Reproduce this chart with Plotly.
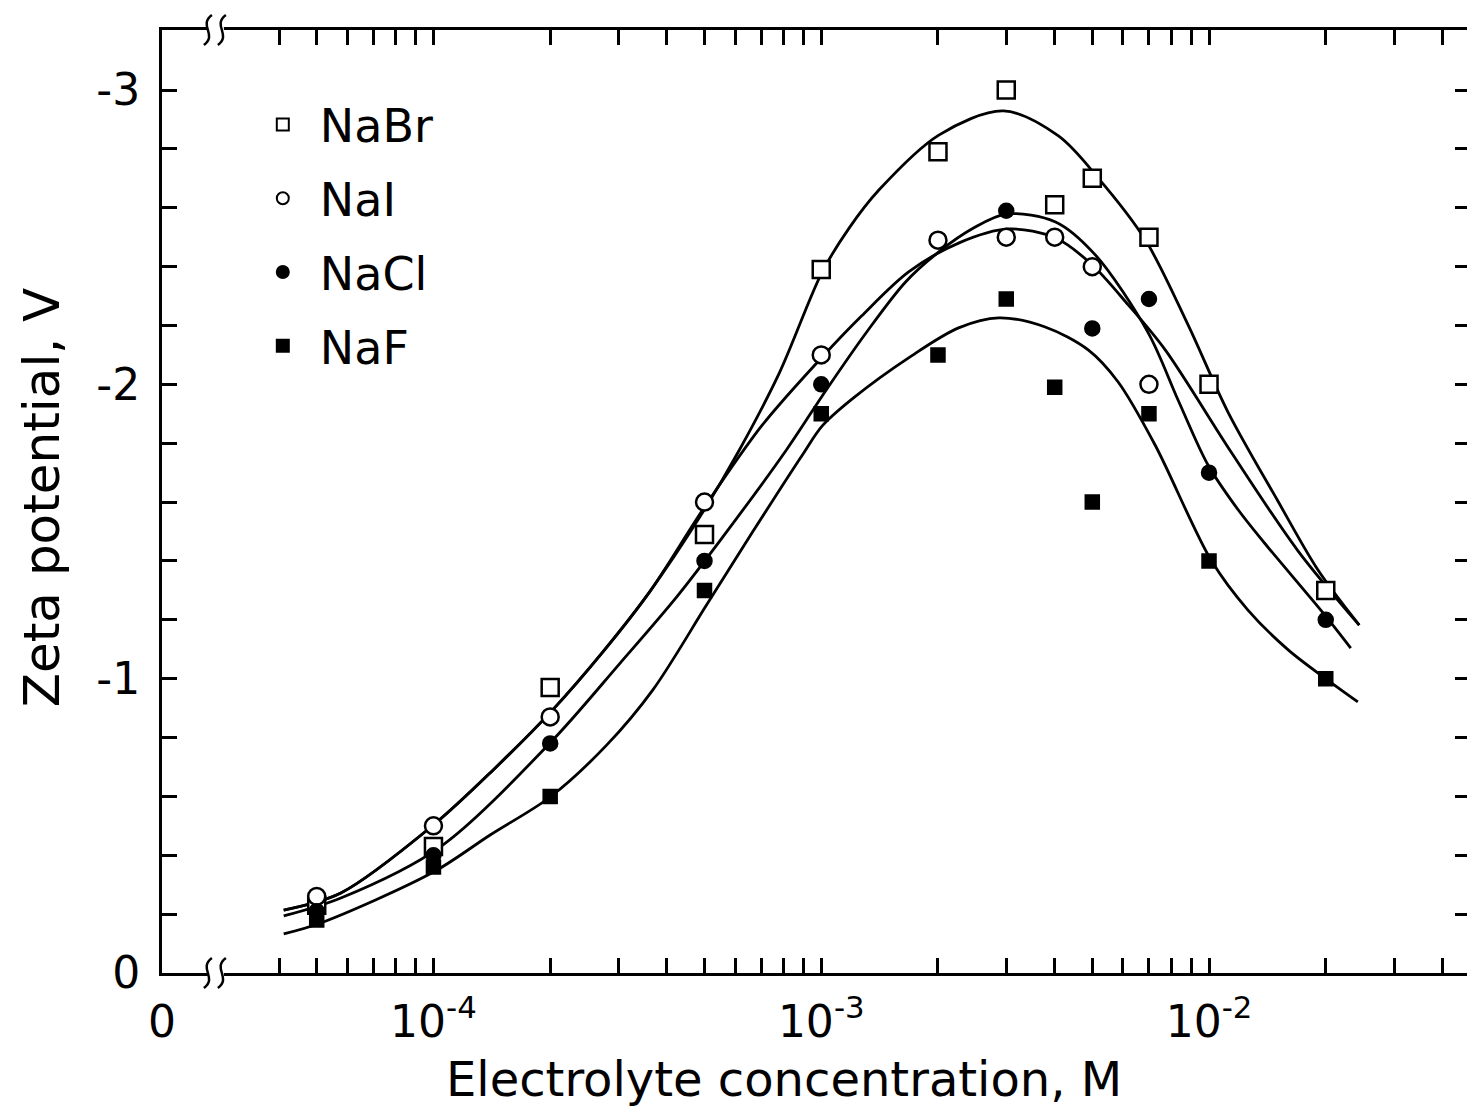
import plotly.graph_objects as go

# ---------------- data ----------------
conc = [5e-5, 1e-4, 2e-4, 5e-4, 1e-3, 2e-3, 3e-3, 4e-3, 5e-3, 7e-3, 1e-2, 2e-2]
nabr_zeta = [-0.23, -0.43, -0.97, -1.49, -2.39, -2.79, -3.00, -2.61, -2.70, -2.50, -2.00, -1.30]

nai_conc = [5e-5, 1e-4, 2e-4, 5e-4, 1e-3, 2e-3, 3e-3, 4e-3, 5e-3, 7e-3]
nai_zeta = [-0.26, -0.50, -0.87, -1.60, -2.10, -2.49, -2.50, -2.50, -2.40, -2.00]

nacl_conc = [5e-5, 1e-4, 2e-4, 5e-4, 1e-3, 3e-3, 5e-3, 7e-3, 1e-2, 2e-2]
nacl_zeta = [-0.21, -0.40, -0.78, -1.40, -2.00, -2.59, -2.19, -2.29, -1.70, -1.20]

naf_conc = [5e-5, 1e-4, 2e-4, 5e-4, 1e-3, 2e-3, 3e-3, 4e-3, 5e-3, 7e-3, 1e-2, 2e-2]
naf_zeta = [-0.18, -0.36, -0.60, -1.30, -1.90, -2.10, -2.29, -1.99, -1.60, -1.90, -1.40, -1.00]

# hand-drawn fitted curves
nabr_curve_x = [4.11e-5, 5.77e-5, 1.0e-4, 1.426e-4, 2.03e-4, 2.735e-4, 3.61e-4, 4.86e-4, 6.15e-4, 7.80e-4,
                1.006e-3, 1.18e-3, 1.41e-3, 2.01e-3, 2.95e-3, 4.09e-3, 5.18e-3, 6.85e-3, 8.83e-3, 1.119e-2,
                1.50e-2, 1.91e-2, 2.44e-2]
nabr_curve_y = [-0.214, -0.272, -0.503, -0.690, -0.894, -1.091, -1.295, -1.549, -1.777, -2.039,
                -2.382, -2.531, -2.661, -2.847, -2.929, -2.844, -2.701, -2.491, -2.202, -1.906,
                -1.607, -1.369, -1.182]

nai_curve_x = [4.11e-5, 5.77e-5, 1.0e-4, 1.426e-4, 2.03e-4, 2.735e-4, 3.61e-4, 5.0e-4, 7.05e-4, 1.006e-3,
               1.27e-3, 1.68e-3, 2.26e-3, 3.04e-3, 4.02e-3, 4.97e-3, 6.19e-3, 7.71e-3, 1.14e-2, 1.69e-2,
               2.44e-2]
nai_curve_y = [-0.214, -0.272, -0.503, -0.690, -0.894, -1.091, -1.295, -1.583, -1.862, -2.093,
               -2.232, -2.382, -2.480, -2.528, -2.497, -2.409, -2.270, -2.117, -1.770, -1.437,
               -1.182]

nacl_curve_x = [4.11e-5, 5.77e-5, 1.04e-4, 2.0e-4, 3.03e-4, 4.24e-4, 5.57e-4, 8.13e-4, 1.03e-3, 1.31e-3,
                1.65e-3, 2.01e-3, 2.47e-3, 3.01e-3, 4.02e-3, 5.09e-3, 6.97e-3, 8.32e-3, 9.94e-3, 1.19e-2,
                1.39e-2, 1.99e-2, 2.32e-2]
nacl_curve_y = [-0.194, -0.255, -0.428, -0.782, -1.053, -1.278, -1.481, -1.777, -1.981, -2.178,
                -2.348, -2.450, -2.531, -2.579, -2.552, -2.440, -2.175, -1.947, -1.726, -1.573,
                -1.461, -1.216, -1.104]

naf_curve_x = [4.11e-5, 5.12e-5, 1.0e-4, 1.40e-4, 2.0e-4, 2.80e-4, 3.68e-4, 5.06e-4, 6.65e-4, 8.94e-4,
               1.006e-3, 1.20e-3, 1.71e-3, 2.26e-3, 2.87e-3, 3.78e-3, 4.88e-3, 5.83e-3, 7.26e-3, 1.012e-2,
               1.26e-2, 1.60e-2, 1.99e-2, 2.42e-2]
naf_curve_y = [-0.133, -0.170, -0.343, -0.469, -0.598, -0.775, -0.962, -1.250, -1.498, -1.760,
               -1.859, -1.950, -2.097, -2.192, -2.226, -2.195, -2.117, -2.008, -1.794, -1.403,
               -1.233, -1.098, -1.002, -0.921]

x_tickvals = [10 ** -4.70, 1e-4, 1e-3, 1e-2]
x_ticktext = ["0", "10<sup>-4</sup>", "10<sup>-3</sup>", "10<sup>-2</sup>"]
x_minor = [4e-5, 5e-5, 6e-5, 7e-5, 8e-5, 9e-5,
           2e-4, 3e-4, 4e-4, 5e-4, 6e-4, 7e-4, 8e-4, 9e-4,
           2e-3, 3e-3, 4e-3, 5e-3, 6e-3, 7e-3, 8e-3, 9e-3,
           2e-2, 3e-2, 4e-2]
y_tickvals = [0, -1, -2, -3]
y_ticktext = ["0", "-1", "-2", "-3"]
y_minor = [-0.2, -0.4, -0.6, -0.8, -1.2, -1.4, -1.6, -1.8, -2.2, -2.4, -2.6, -2.8]

FONT = "DejaVu Sans"
BLACK = "#000000"

fig = go.Figure()

curves = [(nabr_curve_x, nabr_curve_y), (nai_curve_x, nai_curve_y),
          (nacl_curve_x, nacl_curve_y), (naf_curve_x, naf_curve_y)]
for cx, cy in curves:
    fig.add_trace(go.Scatter(x=cx, y=cy, mode="lines", showlegend=False, hoverinfo="skip",
                             line=dict(color=BLACK, width=2.8, shape="spline", smoothing=0.9)))

series = [
    ("NaBr", conc, nabr_zeta, "square", "white", 17),
    ("NaI", nai_conc, nai_zeta, "circle", "white", 17),
    ("NaCl", nacl_conc, nacl_zeta, "circle", BLACK, 14),
    ("NaF", naf_conc, naf_zeta, "square", BLACK, 13),
]
for name, xs, ys, sym, fill, size in series:
    fig.add_trace(go.Scatter(x=xs, y=ys, mode="markers", name=name, legendgroup=name,
                             marker=dict(symbol=sym, size=size, color=fill,
                                         line=dict(color=BLACK, width=2.5))))

axis_common = dict(showline=True, linecolor=BLACK, linewidth=3, mirror="allticks",
                   ticks="inside", ticklen=15, tickwidth=2.5, tickcolor=BLACK,
                   showgrid=False, zeroline=False,
                   tickfont=dict(family=FONT, size=44, color=BLACK))

fig.update_xaxes(type="log", range=[-4.70, -1.327], tickmode="array",
                 tickvals=x_tickvals, ticktext=x_ticktext, ticklabelstandoff=8,
                 minor=dict(tickvals=x_minor, ticks="inside", ticklen=15, tickwidth=2.5,
                            tickcolor=BLACK, showgrid=False),
                 **axis_common)
fig.update_yaxes(range=[0, -3.204], tickmode="array", tickvals=y_tickvals,
                 ticktext=y_ticktext, ticklabelstandoff=10,
                 minor=dict(tickvals=y_minor, ticks="inside", ticklen=15, tickwidth=2.5,
                            tickcolor=BLACK, showgrid=False),
                 **axis_common)

# axis break marks on bottom and top x axis lines (paper coordinates)
W, H = 1311.0, 943.0
shapes = []
for yc in (0.0, 1.0):
    shapes.append(dict(type="line", xref="paper", yref="paper", layer="above",
                       x0=(208 - 162) / W, x1=(224 - 162) / W, y0=yc, y1=yc,
                       line=dict(color="white", width=7)))
    for cxp in (208, 222):
        cx = (cxp - 162) / W
        w = 4 / W
        h = 15 / H
        path = (f"M {cx - w},{yc - h} C {cx + 2.5 * w},{yc - 0.3 * h} "
                f"{cx - 2.5 * w},{yc + 0.3 * h} {cx + w},{yc + h}")
        shapes.append(dict(type="path", xref="paper", yref="paper", layer="above",
                           path=path, line=dict(color=BLACK, width=2.5)))

annotations = [
    dict(text="Electrolyte concentration, M", xref="paper", yref="paper",
         x=(785 - 162) / W, y=(973 - 1079) / H, xanchor="center", yanchor="middle",
         showarrow=False, font=dict(family=FONT, size=48, color=BLACK)),
    dict(text="Zeta potential, V", xref="paper", yref="paper", textangle=-90,
         x=(42 - 162) / W, y=(973 - 497) / H, xanchor="center", yanchor="middle",
         showarrow=False, font=dict(family=FONT, size=50, color=BLACK)),
]

# the page body has an 8px margin, so the figure is offset accordingly
fig.update_layout(
    width=1467, height=1104,
    margin=dict(l=154, r=2, t=22, b=139),
    paper_bgcolor="white", plot_bgcolor="white",
    font=dict(family=FONT, color=BLACK),
    shapes=shapes, annotations=annotations,
    showlegend=True,
    legend=dict(x=(246 - 162) / W, y=(973 - 88) / H, xanchor="left", yanchor="top",
                bgcolor="rgba(0,0,0,0)", borderwidth=0,
                font=dict(family=FONT, size=46, color=BLACK),
                itemsizing="constant", itemwidth=64, tracegroupgap=11,
                traceorder="grouped"),
)

fig.write_html("out.html")
